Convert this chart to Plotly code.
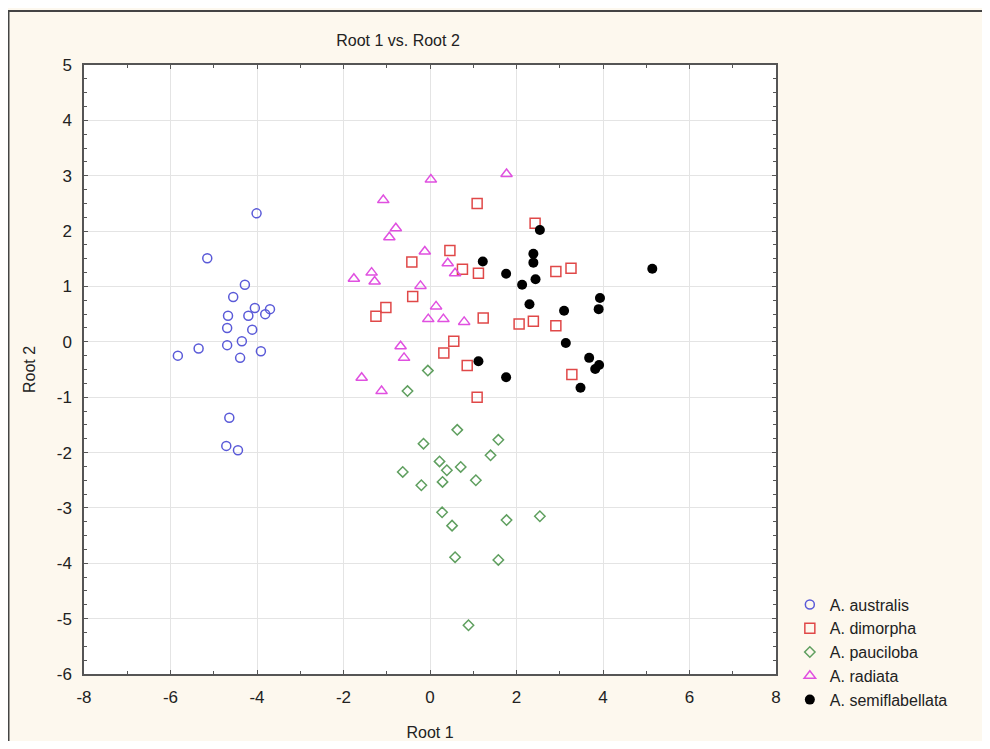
import plotly.graph_objects as go

australis_x = [-4.01, -5.15, -4.28, -4.55, -4.05, -4.20, -4.67, -3.70, -3.81, -4.69,
               -4.11, -4.35, -4.69, -3.91, -5.35, -5.83, -4.39, -4.64, -4.71, -4.44]
australis_y = [2.32, 1.51, 1.03, 0.81, 0.61, 0.47, 0.47, 0.59, 0.50, 0.25,
               0.22, 0.01, -0.06, -0.17, -0.12, -0.25, -0.29, -1.37, -1.88, -1.96]

dimorpha_x = [1.09, 2.43, 0.46, -0.42, 0.75, 1.12, 2.91, 3.26, -0.40, -1.02,
              -1.25, 1.23, 2.06, 2.39, 2.91, 0.55, 0.32, 0.86, 3.28, 1.09]
dimorpha_y = [2.50, 2.14, 1.65, 1.44, 1.31, 1.24, 1.27, 1.33, 0.82, 0.62,
              0.46, 0.43, 0.32, 0.37, 0.29, 0.01, -0.20, -0.43, -0.59, -1.00]

pauciloba_x = [-0.05, -0.52, 0.63, -0.15, 1.58, 1.40, 0.22, 0.39, 0.71, -0.63,
               1.06, 0.29, -0.20, 0.28, 0.51, 1.77, 2.54, 0.58, 1.58, 0.89]
pauciloba_y = [-0.52, -0.89, -1.59, -1.84, -1.77, -2.05, -2.16, -2.32, -2.26, -2.35,
               -2.50, -2.53, -2.59, -3.08, -3.32, -3.22, -3.15, -3.89, -3.94, -5.12]

radiata_x = [0.02, 1.77, -1.08, -0.79, -0.94, -0.12, -1.35, -1.28, -1.76, 0.41,
             0.58, -0.22, 0.14, -0.04, 0.31, 0.79, -0.68, -0.60, -1.58, -1.12]
radiata_y = [2.93, 3.03, 2.56, 2.05, 1.89, 1.63, 1.25, 1.09, 1.14, 1.42,
             1.24, 1.01, 0.64, 0.41, 0.41, 0.36, -0.08, -0.29, -0.65, -0.89]

semi_x = [2.54, 2.39, 2.39, 1.22, 1.76, 2.44, 2.13, 5.14, 2.30, 3.93,
          3.90, 3.10, 3.14, 3.68, 3.91, 3.82, 3.48, 1.12, 1.76]
semi_y = [2.02, 1.59, 1.43, 1.45, 1.23, 1.13, 1.03, 1.32, 0.68, 0.79,
          0.59, 0.56, -0.02, -0.29, -0.42, -0.49, -0.83, -0.35, -0.64]

x_ticks = [-8, -6, -4, -2, 0, 2, 4, 6, 8]
y_ticks = [5, 4, 3, 2, 1, 0, -1, -2, -3, -4, -5, -6]

series = [
    ("A. australis", australis_x, australis_y, "circle-open", "#5a5ad8", 9),
    ("A. dimorpha", dimorpha_x, dimorpha_y, "square-open", "#e04848", 10),
    ("A. pauciloba", pauciloba_x, pauciloba_y, "diamond-open", "#5f9f5f", 8),
    ("A. radiata", radiata_x, radiata_y, "triangle-up-open", "#e050e0", 10),
    ("A. semiflabellata", semi_x, semi_y, "circle", "#000000", 10),
]

fig = go.Figure()
for name, xs, ys, sym, col, sz in series:
    fig.add_trace(go.Scatter(
        x=xs, y=ys, mode="markers", name=name,
        marker=dict(symbol=sym, color=col, size=sz,
                    line=dict(color=col, width=1.5 if sym.endswith("open") else 0)),
    ))

font_family = "Liberation Sans, Arial, sans-serif"
axis_common = dict(
    showline=True, linecolor="#555", linewidth=1.5, mirror="allticks",
    ticks="inside", ticklen=4, tickcolor="#555",
    showgrid=True, gridcolor="#e4e4e4", gridwidth=1, zeroline=False,
    tickfont=dict(family=font_family, size=17, color="#222"),
    automargin=False,
)

fig.update_xaxes(
    range=[-8, 8], tickmode="array", tickvals=x_ticks,
    ticktext=[str(v) for v in x_ticks],
    minor=dict(dtick=1, ticks="inside", ticklen=3, tickcolor="#555", showgrid=False),
    title=dict(text="Root 1", font=dict(family=font_family, size=16, color="#222"), standoff=24),
    ticklabelstandoff=7,
    **axis_common,
)
fig.update_yaxes(
    range=[-6, 5], tickmode="array", tickvals=y_ticks,
    ticktext=[str(v) for v in y_ticks],
    minor=dict(dtick=0.25, ticks="inside", ticklen=3, tickcolor="#555", showgrid=False),
    title=dict(text="Root 2", font=dict(family=font_family, size=16, color="#222"), standoff=17),
    ticklabelstandoff=7,
    **axis_common,
)

# figure sits at an 8px page offset; sized so the page does not scroll
W, H = 974, 733
L, T, R_EDGE, B_EDGE = 76, 57, 768, 666
pw, ph = R_EDGE - L, B_EDGE - T

fig.add_shape(type="rect", xref="paper", yref="paper",
              x0=(0.5 - L) / pw, x1=1.6, y0=-0.5, y1=1 + (T - 3) / ph,
              line=dict(color="#444", width=2), fillcolor="rgba(0,0,0,0)", layer="below")

fig.update_layout(
    width=W, height=H,
    margin=dict(l=L, r=W - R_EDGE, t=T, b=H - B_EDGE, autoexpand=False),
    paper_bgcolor="#fdf8ee", plot_bgcolor="#ffffff",
    title=dict(text="Root 1 vs. Root 2", x=390 / W, xanchor="center",
               y=1 - 32 / H, yanchor="middle",
               font=dict(family=font_family, size=16, color="#222")),
    legend=dict(x=1.02, y=0.142, xanchor="left", yanchor="top",
                bgcolor="rgba(0,0,0,0)", tracegroupgap=0,
                font=dict(family=font_family, size=16, color="#222"),
                itemsizing="trace"),
    showlegend=True,
)

fig.write_html("out.html")
